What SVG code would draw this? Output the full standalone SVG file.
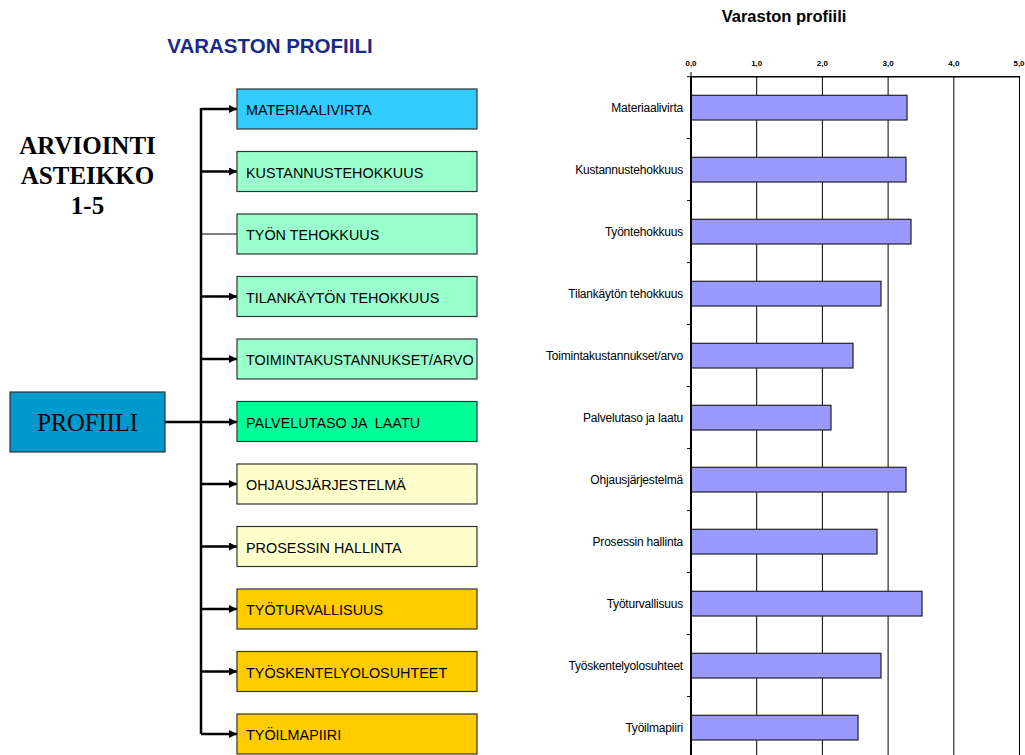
<svg xmlns="http://www.w3.org/2000/svg" width="1025" height="755" viewBox="0 0 1025 755">
  <style>
    .box { stroke: #333; stroke-width: 1.2; }
    .lbl { font-family: "Liberation Sans", Arial, sans-serif; font-size: 14.4px; fill: #000; }
    .conn { stroke: #000; stroke-width: 2.5; fill: none; }
    .thin { stroke: #000; stroke-width: 1; fill: none; }
    .bar { fill: #9999FF; stroke: #222; stroke-width: 1.2; }
    .cat { font-family: "Liberation Sans", Arial, sans-serif; font-size: 12px; fill: #000; text-anchor: end; letter-spacing: -0.2px; }
    .tick { font-family: "Liberation Sans", Arial, sans-serif; font-size: 8px; font-weight: bold; fill: #000; text-anchor: middle; }
    .grid { stroke: #000; stroke-width: 1; }
  </style>
  <defs>
    <marker id="arrow" markerWidth="8" markerHeight="8" refX="8" refY="4" orient="auto" markerUnits="userSpaceOnUse">
      <path d="M0,0 L8,4 L0,8 Z" fill="#000"/>
    </marker>
  </defs>
  <rect width="1025" height="755" fill="#fff"/>

  <!-- headings -->
  <text x="270" y="53" font-family="Liberation Sans, Arial, sans-serif" font-size="20.5" font-weight="bold" fill="#1A2A8A" text-anchor="middle">VARASTON PROFIILI</text>
  <g font-family="Liberation Serif, Times New Roman, serif" font-size="25" font-weight="bold" text-anchor="middle" fill="#000">
    <text x="87.5" y="154">ARVIOINTI</text>
    <text x="87.5" y="184">ASTEIKKO</text>
    <text x="87.5" y="214">1-5</text>
  </g>

  <!-- connectors -->
  <g id="connectors">
    <line class="conn" x1="201" y1="108" x2="201" y2="734"/>
    <line class="conn" x1="165" y1="422" x2="201" y2="422"/>
    <line class="conn" x1="201" y1="109" x2="237" y2="109" marker-end="url(#arrow)"/>
    <line class="conn" x1="201" y1="171.5" x2="237" y2="171.5" marker-end="url(#arrow)"/>
    <line class="thin" x1="201" y1="234" x2="237" y2="234"/>
    <line class="conn" x1="201" y1="296.5" x2="237" y2="296.5" marker-end="url(#arrow)"/>
    <line class="conn" x1="201" y1="359" x2="237" y2="359" marker-end="url(#arrow)"/>
    <line class="conn" x1="201" y1="422" x2="237" y2="422" marker-end="url(#arrow)"/>
    <line class="conn" x1="201" y1="484" x2="237" y2="484" marker-end="url(#arrow)"/>
    <line class="conn" x1="201" y1="546.5" x2="237" y2="546.5" marker-end="url(#arrow)"/>
    <line class="conn" x1="201" y1="609" x2="237" y2="609" marker-end="url(#arrow)"/>
    <line class="conn" x1="201" y1="671.5" x2="237" y2="671.5" marker-end="url(#arrow)"/>
    <line class="conn" x1="201" y1="734" x2="237" y2="734" marker-end="url(#arrow)"/>
  </g>

  <!-- root node -->
  <g id="profiili">
    <rect class="box" x="10" y="392" width="155" height="60" fill="#0099CC"/>
    <text x="87.5" y="431" font-family="Liberation Serif, Times New Roman, serif" font-size="24.5" text-anchor="middle" fill="#000">PROFIILI</text>
  </g>

  <!-- category nodes -->
  <g id="materiaalivirta"><rect class="box" x="237" y="89" width="240" height="40" fill="#33CCFF"/><text class="lbl" x="246" y="115">MATERIAALIVIRTA</text></g>
  <g id="kustannustehokkuus"><rect class="box" x="237" y="151.5" width="240" height="40" fill="#99FFCC"/><text class="lbl" x="246" y="177.5">KUSTANNUSTEHOKKUUS</text></g>
  <g id="tyon-tehokkuus"><rect class="box" x="237" y="214" width="240" height="40" fill="#99FFCC"/><text class="lbl" x="246" y="240">TYÖN TEHOKKUUS</text></g>
  <g id="tilankayton-tehokkuus"><rect class="box" x="237" y="276.5" width="240" height="40" fill="#99FFCC"/><text class="lbl" x="246" y="302.5">TILANKÄYTÖN TEHOKKUUS</text></g>
  <g id="toimintakustannukset"><rect class="box" x="237" y="339" width="240" height="40" fill="#99FFCC"/><text class="lbl" x="246" y="365">TOIMINTAKUSTANNUKSET/ARVO</text></g>
  <g id="palvelutaso"><rect class="box" x="237" y="401.5" width="240" height="40" fill="#00FF99"/><text class="lbl" x="246" y="427.5" xml:space="preserve">PALVELUTASO JA  LAATU</text></g>
  <g id="ohjausjarjestelma"><rect class="box" x="237" y="464" width="240" height="40" fill="#FFFFCC"/><text class="lbl" x="246" y="490">OHJAUSJÄRJESTELMÄ</text></g>
  <g id="prosessin-hallinta"><rect class="box" x="237" y="526.5" width="240" height="40" fill="#FFFFCC"/><text class="lbl" x="246" y="552.5">PROSESSIN HALLINTA</text></g>
  <g id="tyoturvallisuus"><rect class="box" x="237" y="589" width="240" height="40" fill="#FFCC00"/><text class="lbl" x="246" y="615">TYÖTURVALLISUUS</text></g>
  <g id="tyoskentelyolosuhteet"><rect class="box" x="237" y="651.5" width="240" height="40" fill="#FFCC00"/><text class="lbl" x="246" y="677.5">TYÖSKENTELYOLOSUHTEET</text></g>
  <g id="tyoilmapiiri"><rect class="box" x="237" y="714" width="240" height="40" fill="#FFCC00"/><text class="lbl" x="246" y="740">TYÖILMAPIIRI</text></g>

  <!-- bar chart -->
  <g id="chart">
    <text x="784" y="22" font-family="Liberation Sans, Arial, sans-serif" font-size="16.5" font-weight="bold" text-anchor="middle">Varaston profiili</text>
    <!-- value grid -->
    <line class="grid" x1="756.7" y1="76.7" x2="756.7" y2="755"/>
    <line class="grid" x1="822.4" y1="76.7" x2="822.4" y2="755"/>
    <line class="grid" x1="888.1" y1="76.7" x2="888.1" y2="755" stroke="#444"/>
    <line class="grid" x1="953.8" y1="76.7" x2="953.8" y2="755" stroke="#222" stroke-width="1.5"/>
    <line class="grid" x1="1019.5" y1="76.7" x2="1019.5" y2="755" stroke="#888"/>
    <line x1="691" y1="76.7" x2="1020" y2="76.7" stroke="#000" stroke-width="1.5"/>
    <!-- value axis labels -->
    <text class="tick" x="691" y="66">0,0</text>
    <text class="tick" x="756.7" y="66">1,0</text>
    <text class="tick" x="822.4" y="66">2,0</text>
    <text class="tick" x="888.1" y="66">3,0</text>
    <text class="tick" x="953.8" y="66">4,0</text>
    <text class="tick" x="1019" y="66">5,0</text>
    <!-- category ticks -->
    <g stroke="#000" stroke-width="1">
      <line x1="691" y1="72" x2="691" y2="80"/>
      <line x1="687" y1="76.7" x2="691" y2="76.7"/>
      <line x1="687" y1="138.6" x2="691" y2="138.6"/>
      <line x1="687" y1="200.6" x2="691" y2="200.6"/>
      <line x1="687" y1="262.6" x2="691" y2="262.6"/>
      <line x1="687" y1="324.6" x2="691" y2="324.6"/>
      <line x1="687" y1="386.6" x2="691" y2="386.6"/>
      <line x1="687" y1="448.6" x2="691" y2="448.6"/>
      <line x1="687" y1="510.6" x2="691" y2="510.6"/>
      <line x1="687" y1="572.6" x2="691" y2="572.6"/>
      <line x1="687" y1="634.6" x2="691" y2="634.6"/>
      <line x1="687" y1="696.6" x2="691" y2="696.6"/>
    </g>
    <!-- bars -->
    <rect class="bar" x="691" y="95.3" width="216" height="24.7"/>
    <rect class="bar" x="691" y="157.3" width="215" height="24.7"/>
    <rect class="bar" x="691" y="219.3" width="220" height="24.7"/>
    <rect class="bar" x="691" y="281.3" width="190" height="24.7"/>
    <rect class="bar" x="691" y="343.3" width="162" height="24.7"/>
    <rect class="bar" x="691" y="405.3" width="140" height="24.7"/>
    <rect class="bar" x="691" y="467.3" width="215" height="24.7"/>
    <rect class="bar" x="691" y="529.3" width="186" height="24.7"/>
    <rect class="bar" x="691" y="591.3" width="231" height="24.7"/>
    <rect class="bar" x="691" y="653.3" width="190" height="24.7"/>
    <rect class="bar" x="691" y="715.3" width="167" height="24.7"/>
    <line x1="691" y1="76.7" x2="691" y2="755" stroke="#000" stroke-width="2"/>
    <!-- category labels -->
    <text class="cat" x="683" y="112">Materiaalivirta</text>
    <text class="cat" x="683" y="174">Kustannustehokkuus</text>
    <text class="cat" x="683" y="236">Työntehokkuus</text>
    <text class="cat" x="683" y="298">Tilankäytön tehokkuus</text>
    <text class="cat" x="683" y="360">Toimintakustannukset/arvo</text>
    <text class="cat" x="683" y="422">Palvelutaso ja laatu</text>
    <text class="cat" x="683" y="484">Ohjausjärjestelmä</text>
    <text class="cat" x="683" y="546">Prosessin hallinta</text>
    <text class="cat" x="683" y="608">Työturvallisuus</text>
    <text class="cat" x="683" y="670">Työskentelyolosuhteet</text>
    <text class="cat" x="683" y="732">Työilmapiiri</text>
  </g>
</svg>
